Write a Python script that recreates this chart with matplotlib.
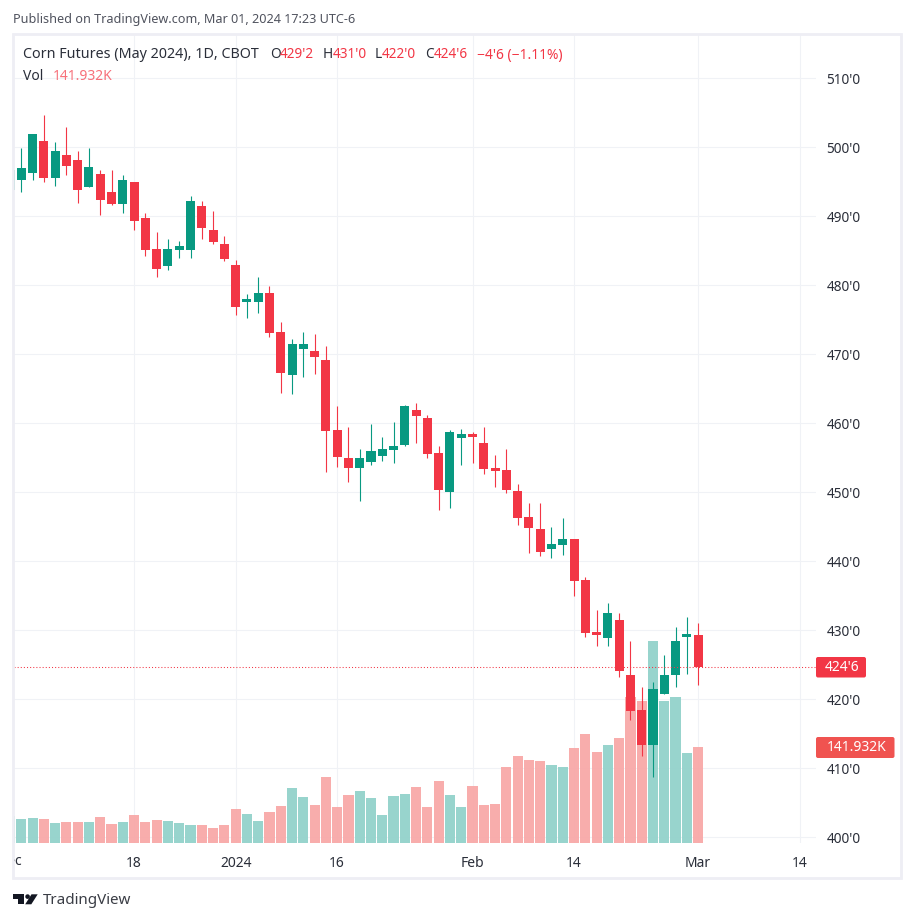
"""
TradingView style daily candles for Corn Futures (May 2024), volume at the bottom of the pane.
"""
import matplotlib
matplotlib.use("Agg")
import matplotlib.pyplot as plt
from matplotlib.patches import Circle, FancyBboxPatch, Polygon, Rectangle
import numpy as np

# first candle sits half outside the pane on the left
opens = [493.8, 495.26, 496.28, 500.9, 495.55, 498.89, 498.16, 494.25, 496.13, 493.53, 491.79,
         494.97, 489.76, 485.26, 482.8, 485.12, 485.12, 491.5, 488.02, 485.99, 482.95,
         477.58, 477.58, 478.89, 473.23, 467.0, 470.77, 470.48, 469.18, 459.03, 454.97,
         453.52, 454.39, 455.26, 456.13, 456.86, 461.93, 460.77, 455.7, 450.05, 457.87,
         458.45, 457.15, 453.52, 453.23, 450.19, 446.42, 444.68, 441.78, 442.36, 443.23,
         437.29, 429.75, 428.88, 431.49, 423.52, 418.45, 413.37, 420.77, 423.52, 429.03, 429.25]
highs = [498.0, 499.9, 501.93, 504.68, 500.77, 502.94, 499.47, 499.9, 496.71, 496.71, 495.99,
         494.97, 490.48, 487.73, 486.71, 486.42, 492.94, 492.22, 490.77, 487.15, 483.67,
         478.74, 481.2, 479.9, 474.68, 472.22, 473.23, 472.95, 471.2, 462.51, 459.47,
         456.28, 459.9, 458.02, 460.19, 462.66, 462.95, 461.21, 456.71, 459.03, 459.18,
         458.74, 459.47, 455.41, 456.28, 451.2, 448.45, 448.45, 444.97, 446.27, 443.23,
         437.72, 432.94, 433.95, 432.5, 428.45, 421.78, 422.5, 426.42, 430.48, 431.93, 431.0]
lows = [492.0, 493.5, 495.26, 494.97, 494.39, 495.99, 491.93, 494.25, 490.19, 491.64, 490.48,
        488.02, 484.25, 481.2, 482.22, 483.96, 483.96, 486.71, 485.99, 483.52, 475.7,
        475.27, 475.99, 472.51, 464.39, 464.25, 466.71, 467.15, 452.94, 453.67, 451.5,
        448.74, 453.96, 454.54, 454.25, 456.71, 457.15, 454.97, 447.44, 447.73, 453.96,
        454.25, 452.66, 450.77, 449.9, 445.26, 441.2, 440.77, 440.48, 440.91, 434.97,
        429.03, 427.72, 427.72, 423.23, 417.0, 411.78, 408.74, 420.77, 421.78, 423.66, 422.0]
closes = [496.7, 497.0, 501.93, 495.55, 499.47, 497.29, 493.81, 497.15, 492.36, 491.79, 495.26,
          489.32, 485.12, 482.36, 485.26, 485.7, 492.22, 488.31, 486.28, 483.81, 476.86,
          478.02, 478.89, 473.09, 467.29, 471.5, 471.5, 469.61, 458.89, 455.12, 453.52,
          454.97, 455.99, 456.28, 456.71, 462.51, 461.06, 455.55, 450.34, 458.74, 458.45,
          458.02, 453.38, 453.09, 450.34, 446.27, 444.82, 441.35, 442.5, 443.23, 437.14,
          429.6, 429.32, 432.5, 424.1, 418.3, 413.37, 421.49, 423.52, 428.45, 429.46, 424.75]
volumes = [39.9, 35.5, 37.0, 35.5, 29.6, 31.0, 31.0, 31.0, 38.4, 28.1, 31.0,
           41.4, 31.0, 34.0, 32.5, 29.6, 26.6, 26.6, 22.2, 26.6, 50.3,
           42.9, 32.5, 45.8, 54.7, 81.3, 68.0, 56.2, 97.5, 53.2, 70.9,
           76.9, 66.5, 41.4, 69.5, 72.4, 82.8, 53.2, 91.6, 70.9, 53.2,
           84.2, 56.2, 57.6, 112.3, 128.6, 122.7, 121.2, 115.3, 112.3, 140.4,
           161.1, 134.5, 144.8, 155.2, 215.8, 209.9, 298.6, 209.9, 215.8, 133.0, 141.932]

price_ticks = list(range(400, 520, 10))
price_labels = ["%d'0" % p for p in price_ticks]
date_ticks = [10, 19, 28, 40, 49, 60, 69]
date_labels = ["18", "2024", "16", "Feb", "14", "Mar", "14"]

GREEN = "#089981"
RED = "#F23645"
VOL_GREEN = "#93D2CB"
VOL_RED = "#F8A9A8"
GRID = "#F0F2F6"
FRAME = "#EEEEF4"
INK = "#2A2E39"
FONT = "Noto Sans"
W, H = 914, 922

plt.rcParams["font.family"] = FONT

fig = plt.figure(figsize=(W / 100, H / 100), dpi=100, facecolor="white")
# pane: x 14..816, y 35..843 px
ax = fig.add_axes([14 / W, 1 - 843 / H, 802 / W, 808 / H])

opens, highs, lows, closes = map(np.array, (opens, highs, lows, closes))
volumes = np.array(volumes)
xs = np.arange(-1, len(opens) - 1)
up = closes >= opens

# volume uses its own scale, expressed as a fraction of the pane height
ax.bar(xs, volumes / 1194, 0.9, color=np.where(up, VOL_GREEN, VOL_RED),
       transform=ax.get_xaxis_transform(), zorder=1, alpha=0.95)
ax.vlines(xs, lows, highs, color=np.where(up, GREEN, RED), lw=0.8, zorder=2)
ax.bar(xs, np.abs(closes - opens), 0.8, bottom=np.minimum(opens, closes),
       color=np.where(up, GREEN, RED), zorder=3)
ax.axhline(closes[-1], color=RED, lw=0.75, ls=(0, (1, 2)), zorder=4)

ax.set_xlim(-0.647, 70.45)
ax.set_ylim(399.17, 516.28)
ax.yaxis.tick_right()
ax.set_yticks(price_ticks, price_labels, fontsize=9.8, color=INK)
ax.set_xticks(date_ticks, date_labels, fontsize=10, color=INK)
ax.get_xticklabels()[1].set_fontweight("bold")
ax.tick_params(axis="y", length=0, pad=7.5)
ax.tick_params(axis="x", length=0, pad=9.5)
ax.grid(True, color=GRID, lw=0.8)
ax.set_axisbelow(True)
for s in ax.spines.values():
    s.set_visible(False)

# everything around the pane is placed in pixels on an overlay
ov = fig.add_axes([0, 0, 1, 1], zorder=10)
ov.set_xlim(0, W)
ov.set_ylim(H, 0)
ov.axis("off")
ov.add_patch(Rectangle((13, 34), 888, 844, fill=False, ec=FRAME, lw=2))

dec = ov.text(10, 861, "Dec", fontsize=10, color=INK, ha="center", va="center")
dec.set_clip_path(Rectangle((14, 845), 40, 30, transform=ov.transData))
dec.set_clip_on(True)

ov.text(13, 20, "Published on TradingView.com, Mar 01, 2024 17:23 UTC-6",
        fontsize=9.1, color="#50535E", va="center")

ov.text(23, 55, "Corn Futures (May 2024), 1D, CBOT", fontsize=10.3, color=INK, va="center")
legend_bits = [(270, "O", INK), (280, "429'2", RED), (322.7, "H", INK), (332.7, "431'0", RED),
               (375, "L", INK), (381.7, "422'0", RED), (425.3, "C", INK), (434, "424'6", RED)]
for x, s, c in legend_bits:
    ov.text(x, 55, s, fontsize=9.8, color=c, va="center")
ov.text(477.3, 55, "\u22124'6 (\u22121.11%)", fontsize=10, color=RED, va="center")
ov.text(23, 76, "Vol", fontsize=10, color=INK, va="center")
ov.text(53, 76, "141.932K", fontsize=10, color="#F7707A", va="center")

# last price / last volume tags on the price scale
ov.add_patch(FancyBboxPatch((816, 657), 50, 20.5, boxstyle="round,pad=0,rounding_size=2",
                            fc=RED, ec="none"))
ov.text(842, 667.5, "424'6", fontsize=10, color="white", fontweight="bold", ha="center", va="center")
ov.add_patch(FancyBboxPatch((816, 737), 78.5, 21, boxstyle="round,pad=0,rounding_size=2",
                            fc="#F05350", ec="none"))
ov.text(857, 747.5, "141.932K", fontsize=10, color="white", fontweight="bold", ha="center", va="center")

# logo
LOGO = "#131722"
ov.add_patch(Polygon([(13, 894.3), (24, 894.3), (24, 904.3), (18.3, 904.3), (18.3, 898.7), (13, 898.7)],
                     fc=LOGO, ec="none"))
ov.add_patch(Circle((27.6, 896.6), 2.3, fc=LOGO, ec="none"))
ov.add_patch(Polygon([(31.5, 894.3), (37.7, 894.3), (31.3, 904.3), (25.2, 904.3)], fc=LOGO, ec="none"))
ov.text(42.5, 900, "TradingView", fontsize=10.9, color="#3A3D45", va="center")

fig.savefig("out.png", dpi=100)
